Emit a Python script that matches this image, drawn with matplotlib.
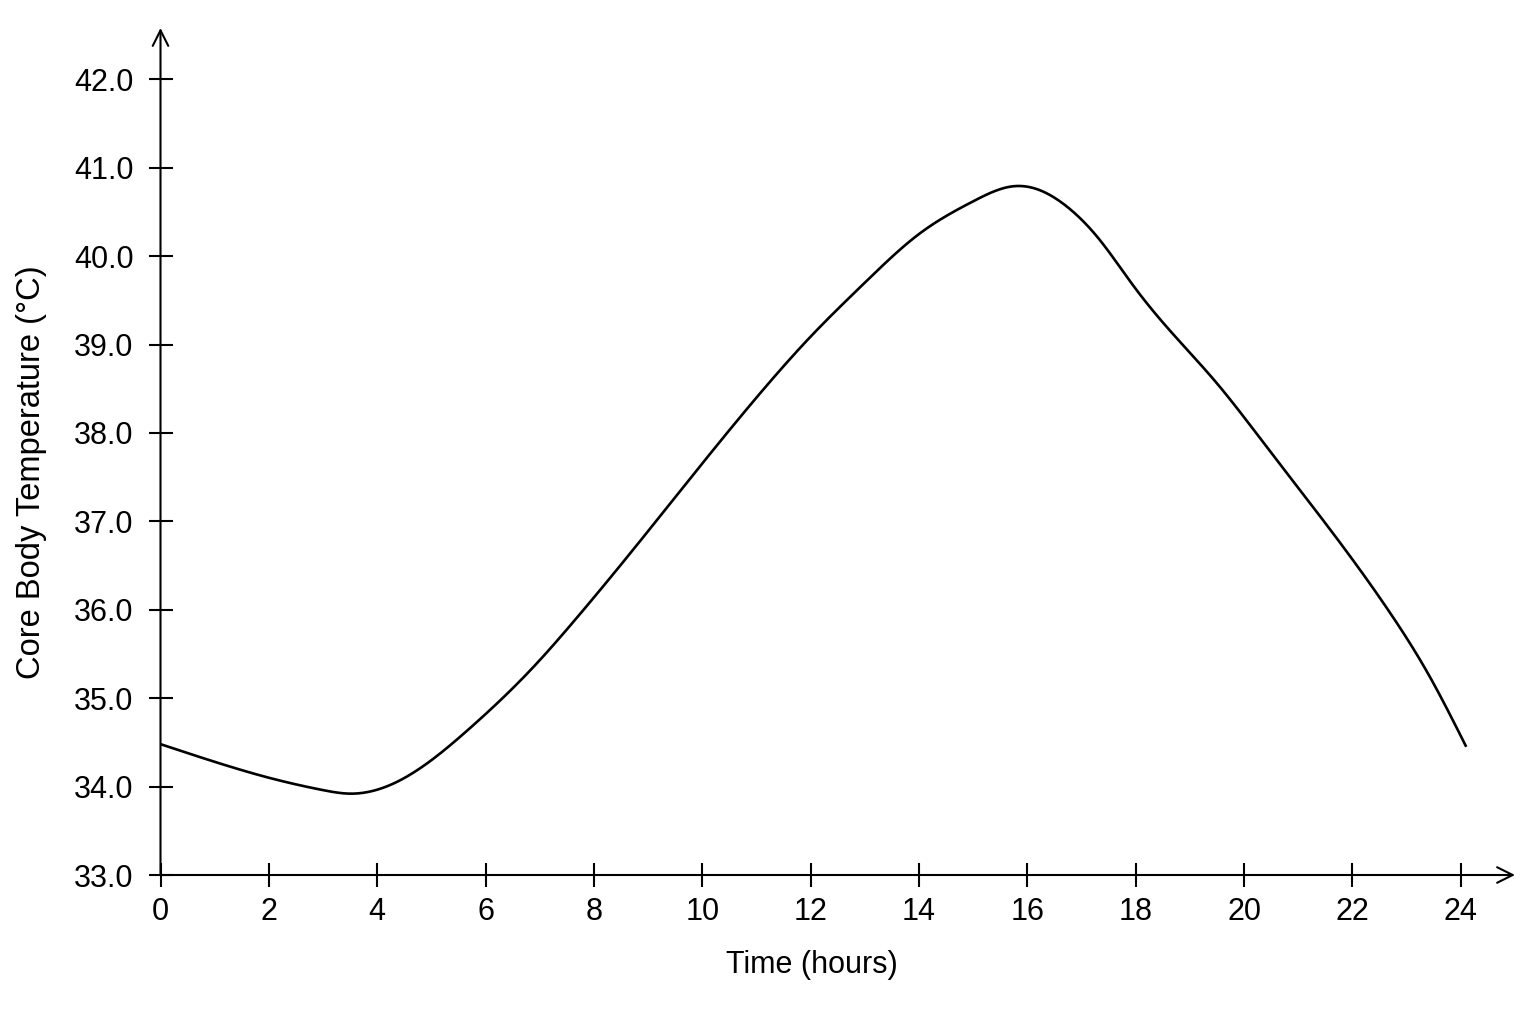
import numpy as np
import matplotlib
matplotlib.use("Agg")
import matplotlib.pyplot as plt

plt.rcParams['font.family'] = ['Liberation Sans', 'DejaVu Sans']

# Data
hours = [0, 1, 2, 3, 3.5, 4.48, 5.71, 6.94, 7.56, 8.79,
         10.02, 11, 12, 13, 14, 15, 15.74, 16.11, 16.73,
         17.34, 17.95, 18.57, 19.5, 20.42, 22.7, 23.43, 24.1]
temps = [34.48, 34.28, 34.10, 33.96, 33.92, 34.09, 34.66,
         35.39, 35.82, 36.73, 37.67, 38.40, 39.09, 39.70, 40.25,
         40.62, 40.79, 40.77, 40.56, 40.18, 39.67, 39.20, 38.56,
         37.84, 35.96, 35.24, 34.45]
xticks = [0, 2, 4, 6, 8, 10, 12, 14, 16, 18, 20, 22, 24]
yticks = [33.0, 34.0, 35.0, 36.0, 37.0, 38.0, 39.0, 40.0, 41.0, 42.0]
xlabel = "Time (hours)"
ylabel = "Core Body Temperature (°C)"


def natural_spline(x, y, xs):
    x = np.asarray(x, float); y = np.asarray(y, float)
    n = len(x)
    h = np.diff(x)
    A = np.zeros((n, n)); b = np.zeros(n)
    A[0, 0] = 1; A[-1, -1] = 1
    for i in range(1, n - 1):
        A[i, i - 1] = h[i - 1]
        A[i, i] = 2 * (h[i - 1] + h[i])
        A[i, i + 1] = h[i]
        b[i] = 3 * ((y[i + 1] - y[i]) / h[i] - (y[i] - y[i - 1]) / h[i - 1])
    c = np.linalg.solve(A, b)
    bb = (y[1:] - y[:-1]) / h - h * (2 * c[:-1] + c[1:]) / 3
    d = (c[1:] - c[:-1]) / (3 * h)
    idx = np.clip(np.searchsorted(x, xs) - 1, 0, n - 2)
    dx = xs - x[idx]
    return y[idx] + bb[idx] * dx + c[idx] * dx ** 2 + d[idx] * dx ** 3


W, H = 1536, 1024
fig = plt.figure(figsize=(W / 100, H / 100), dpi=100)
ax = fig.add_axes([160.5 / W, (H - 875) / H, (1515 - 160.5) / W, (875 - 28) / H])

xs = np.linspace(hours[0], hours[-1], 800)
ax.plot(xs, natural_spline(hours, temps, xs), color='black', lw=1.9,
        solid_capstyle='butt')

ax.set_xlim(0, 25.0)
ax.set_ylim(33.0, 42.58)
for s in ax.spines.values():
    s.set_visible(False)

ax.annotate('', xy=(1, 0), xytext=(0, 0), xycoords='axes fraction',
            arrowprops=dict(arrowstyle='->', lw=1.5, color='black',
                            mutation_scale=28, shrinkA=0, shrinkB=0))
ax.annotate('', xy=(0, 1), xytext=(0, 0), xycoords='axes fraction',
            arrowprops=dict(arrowstyle='->', lw=1.5, color='black',
                            mutation_scale=28, shrinkA=0, shrinkB=0))

ax.set_xticks(xticks)
ax.set_xticklabels([str(t) for t in xticks])
ax.set_yticks(yticks)
ax.set_yticklabels([f"{t:.1f}" for t in yticks])
ax.tick_params(direction='inout', length=17, width=1.5, labelsize=22,
               colors='black')
ax.tick_params(axis='y', pad=11)
ax.tick_params(axis='x', pad=7)

fig.text(812 / W, 1 - 965 / H, xlabel, ha='center', va='center', fontsize=22)
fig.text(32 / W, 1 - 472 / H, ylabel, ha='center', va='center', fontsize=23.5,
         rotation=90)

fig.savefig('out.png', dpi=100, facecolor='white')
